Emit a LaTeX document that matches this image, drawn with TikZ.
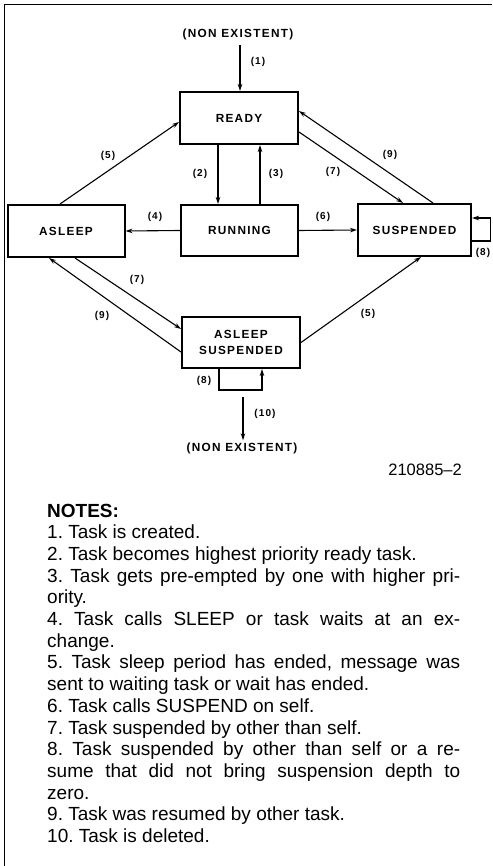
\documentclass[tikz,border=0pt]{standalone}
\usepackage{fontspec}
\setmainfont{Liberation Sans}
\newfontfamily\lblfont[LetterSpace=11]{Liberation Sans}
\usetikzlibrary{arrows.meta}
\newcommand\justline[1]{\makebox[413pt][s]{\spaceskip=0pt\xspaceskip=0pt #1}}
\begin{document}
\frenchspacing
\begin{tikzpicture}[x=1pt,y=-1pt,
  state/.style={draw, line width=2pt, inner sep=0pt, align=center,
    font=\lblfont\bfseries\fontsize{11.8}{16}\selectfont},
  lab/.style={inner sep=0pt, font=\lblfont\bfseries\fontsize{10}{12}\selectfont},
  ne/.style={inner sep=2pt, font=\lblfont\bfseries\fontsize{11.8}{14}\selectfont},
  note/.style={anchor=base west, inner sep=0pt, font=\fontsize{19}{22}\selectfont},
  arr/.style={line width=1.1pt, -{Stealth[length=7pt,width=4.5pt]}}]
\useasboundingbox (0,0) rectangle (492,866);
% frame
\draw[line width=1.3pt] (4.5,866) -- (4.5,4.5) -- (492,4.5);
% nodes
\node[ne] (ne1) at (238,34) {(NON EXISTENT)};
\node[state, minimum width=118pt, minimum height=52pt] (READY) at (239,118) {READY};
\node[state, minimum width=117pt, minimum height=51pt] (RUNNING) at (239.5,230.5) {RUNNING};
\node[state, minimum width=117pt, minimum height=52pt] (ASLEEP) at (66,231) {ASLEEP};
\node[state, minimum width=113pt, minimum height=52pt] (SUSP) at (414.5,230) {SUSPENDED};
\node[state, minimum width=118pt, minimum height=51pt] (AS) at (241,342.5) {ASLEEP\\SUSPENDED};
\node[ne] (ne2) at (242,448) {(NON EXISTENT)};
\coordinate (d10) at (243,397);
% connectors
\draw[arr] ([xshift=2pt,yshift=-3pt]ne1.south) -- ([xshift=1pt]READY.north);
\draw[arr] ([xshift=-21pt]READY.south) -- ([xshift=-21.5pt]RUNNING.north);
\draw[arr] ([xshift=20.5pt]RUNNING.north) -- ([xshift=21pt]READY.south);
\draw[arr] (RUNNING.west) -- (ASLEEP.east);
\draw[arr] (RUNNING.east) -- (SUSP.west);
\draw[arr] ([xshift=-6pt]ASLEEP.north) -- ([yshift=-4pt]READY.west);
\draw[arr] ([xshift=18.5pt]SUSP.north) -- ([yshift=7pt]READY.east);
\draw[arr] ([yshift=-14pt]READY.east) -- ([xshift=-11.5pt]SUSP.north);
\draw[arr] ([xshift=9pt]ASLEEP.south) -- ([yshift=13.5pt]AS.west);
\draw[arr] ([yshift=-9.5pt]AS.west) -- ([xshift=-17pt]ASLEEP.south);
\draw[arr] (AS.east) -- ([xshift=6.5pt]SUSP.south);
\draw[arr] ([yshift=-11pt]SUSP.east) -- ++(18.5,0) |- ([yshift=12pt]SUSP.east);
\draw[arr] ([xshift=-22pt]AS.south) -- ++(0,21) -| ([xshift=21pt]AS.south);
\draw[arr] (d10) -- (d10 |- ne2.north);
% labels
\node[lab] (l1) at (258,62) {(1)};
\node[lab] (l2) at (200,174) {(2)};
\node[lab] (l3) at (276,174) {(3)};
\node[lab] (l4) at (155,217) {(4)};
\node[lab] (l6) at (323,217) {(6)};
\node[lab] (l5a) at (108,156) {(5)};
\node[lab] (l9a) at (390,155) {(9)};
\node[lab] (l7a) at (333,172) {(7)};
\node[lab] (l8a) at (483,253) {(8)};
\node[lab] (l7b) at (137,280) {(7)};
\node[lab] (l9b) at (102,316) {(9)};
\node[lab] (l5b) at (368,314) {(5)};
\node[lab] (l8b) at (204,381) {(8)};
\node[lab] (l10) at (265,414) {(10)};
% figure number
\node[anchor=east, inner sep=0pt, font=\fontsize{16.5}{19}\selectfont] (fig) at (462,470) {210885--2};
% notes
\node[note] (n0)  at (47,517.0) {\textbf{NOTES:}};
\node[note] (n1)  at (47,538.7) {1. Task is created.};
\node[note] (n2)  at (47,560.4) {2. Task becomes highest priority ready task.};
\node[note] (n3)  at (47,582.1) {\justline{3. Task gets pre-empted by one with higher pri-}};
\node[note] (n4)  at (47,603.8) {ority.};
\node[note] (n5)  at (47,625.5) {\justline{4. Task calls SLEEP or task waits at an ex-}};
\node[note] (n6)  at (47,647.2) {change.};
\node[note] (n7)  at (47,668.9) {\justline{5. Task sleep period has ended, message was}};
\node[note] (n8)  at (47,690.6) {sent to waiting task or wait has ended.};
\node[note] (n9)  at (47,712.3) {6. Task calls SUSPEND on self.};
\node[note] (n10) at (47,734.0) {7. Task suspended by other than self.};
\node[note] (n11) at (47,755.7) {\justline{8. Task suspended by other than self or a re-}};
\node[note] (n12) at (47,777.4) {\justline{sume that did not bring suspension depth to}};
\node[note] (n13) at (47,799.1) {zero.};
\node[note] (n14) at (47,820.8) {9. Task was resumed by other task.};
\node[note] (n15) at (47,842.5) {10. Task is deleted.};
\end{tikzpicture}
\end{document}
